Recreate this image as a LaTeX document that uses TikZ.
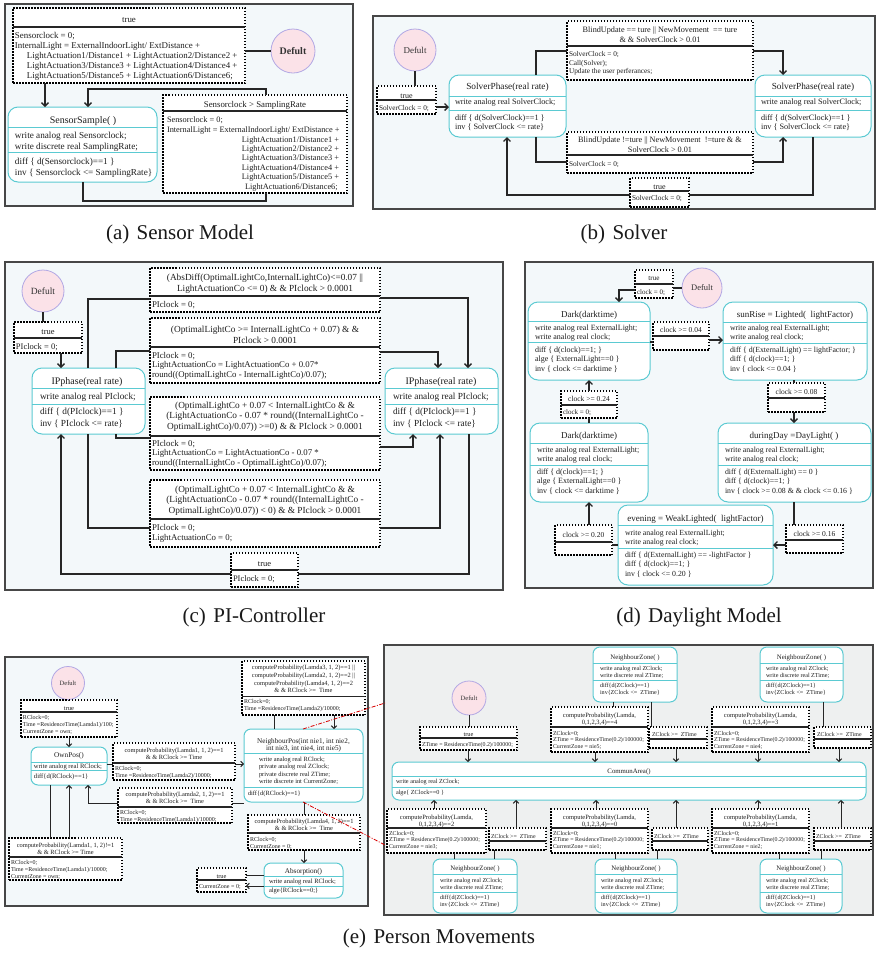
\documentclass[tikz,border=0pt]{standalone}
\usepackage{fontspec}
\setmainfont{Liberation Serif}
\usetikzlibrary{arrows.meta}
\definecolor{pbg}{HTML}{F3F8FA}
\definecolor{gbg}{HTML}{EEF0F0}
\definecolor{stc}{HTML}{5BCAD2}
\definecolor{circf}{HTML}{FBE2E8}
\definecolor{circd}{HTML}{B2A8E4}
\definecolor{txtc}{HTML}{1E1E1E}
\newcount\lblcnt
\newcommand\TL[3][]{\global\advance\lblcnt by 1\relax\node[tx,#1] (lbl\the\lblcnt) at (#2) {\begin{tabular}[t]{@{}l@{}}#3\end{tabular}};}
\newcommand\TC[3][]{\global\advance\lblcnt by 1\relax\node[tx,tc,#1] (lbl\the\lblcnt) at (#2) {\begin{tabular}[t]{@{}c@{}}#3\end{tabular}};}
\newcommand\TR[3][]{\global\advance\lblcnt by 1\relax\node[tx,tr,#1] (lbl\the\lblcnt) at (#2) {\begin{tabular}[t]{@{}r@{}}#3\end{tabular}};}
\newcommand\BX[6]{\node[#1, minimum width={#5-#3}, minimum height={#6-#4}] (#2) at ({(#3+#5)/2},{(#4+#6)/2}) {};}
\newcommand\HS[4][tsep]{\draw[#1] (#2,#4) -- (#3,#4);}
\tikzset{
 fsz/.style 2 args={font=\fontsize{#1}{#2}\selectfont},
 tx/.style={inner sep=0pt, outer sep=0pt, anchor=base west, text=txtc},
 tc/.style={anchor=base},
 tr/.style={anchor=base east},
 panel/.style={draw=black!72, line width=1.2pt, fill=pbg},
 panelg/.style={draw=black!72, line width=1.2pt, fill=gbg},
 stbox/.style={rectangle, draw=stc, line width=1pt, fill=white, rounded corners=10pt, inner sep=0pt, outer sep=0pt},
 stboxs/.style={stbox, rounded corners=7pt},
 trbox/.style={rectangle, draw=black, line width=1.1pt, dash pattern=on 1.5pt off 1.5pt, fill=white, inner sep=0pt, outer sep=0pt},
 tsep/.style={draw=black!85, line width=1.2pt},
 ssep/.style={draw=stc, line width=0.9pt},
 defult/.style={circle, draw=circd, fill=circf, line width=0.8pt, inner sep=0pt, text=black!80},
 conn/.style={draw=black!85, line width=1.3pt},
 arr/.style={conn, -{Straight Barb[length=3.5pt,width=7pt]}},
 conn2/.style={draw=black!85, line width=1pt},
 arr2/.style={conn2, -{Straight Barb[length=2.6pt,width=5.5pt]}},
 redl/.style={draw=red!85!black, line width=0.8pt, dash pattern=on 4pt off 1.5pt on 1pt off 1.5pt},
 captxt/.style={inner sep=0pt, anchor=base, font=\fontsize{21}{24}\selectfont, text=black!90}
}
\begin{document}
\begin{tikzpicture}[x=1pt,y=-1pt]
\useasboundingbox (0,0) rectangle (876,954);
\fill[white] (0,0) rectangle (876,954);

% ================= (a) =================
\draw[panel] (5,4) rectangle (353,206);
\BX{trbox}{truea}{13}{8}{245}{83}
\TC[fsz={8.9}{10}]{129,22}{true}
\HS{13}{245}{27}
\TL[fsz={8.9}{10}]{15,38}{Sensorclock = 0;\\InternalLight = ExternalIndoorLight/ ExtDistance +\\\hspace*{12pt}LightActuation1/Distance1 + LightActuation2/Distance2 +\\\hspace*{12pt}LightActuation3/Distance3 + LightActuation4/Distance4 +\\\hspace*{12pt}LightActuation5/Distance5 + LightActuation6/Distance6;}
\node[defult, minimum size=44pt, font=\fontsize{10}{12}\selectfont\bfseries] (dfa) at (293,51) {Defult};
\BX{stbox}{ss}{8}{107}{157}{182}
\TC[fsz={10}{12}]{83,123.5}{SensorSample( )}
\HS[ssep]{8}{157}{127}
\TL[fsz={9.2}{11}]{15,138}{write analog real Sensorclock;\\write discrete real SamplingRate;}
\HS[ssep]{8}{157}{152}
\TL[fsz={9.2}{11.5}]{15,164}{diff \{ d(Sensorclock)==1 \}\\inv \{ Sensorclock <= SamplingRate\}}
\BX{trbox}{sra}{163}{95}{347}{193}
\TC[fsz={8.8}{10}]{255,107}{Sensorclock > SamplingRate}
\HS{163}{347}{111}
\TL[fsz={8.3}{10}]{167,122}{Sensorclock = 0;\\InternalLight = ExternalIndoorLight/ ExtDistance +}
\TR[fsz={8.3}{9.2}]{339,142.5}{LightActuation1/Distance1 +\\LightActuation2/Distance2 +\\LightActuation3/Distance3 +\\LightActuation4/Distance4 +\\LightActuation5/Distance5 +}
\TL[fsz={8.3}{10}]{245,189.3}{LightActuation6/Distance6;}
\node[captxt] (capa) at (180,239) {(a)\hspace{0.35em}Sensor Model};

% ================= (b) =================
\draw[panel] (373,16) rectangle (875,209);
\node[defult, minimum size=42pt, font=\fontsize{9}{11}\selectfont] (dfb) at (415,50) {Defult};
\BX{trbox}{trueb}{377}{86}{436}{114}
\TC[fsz={8}{10}]{406.5,98}{true}
\HS{377}{436}{100}
\TL[fsz={7.3}{8.5}]{379,110.5}{SolverClock = 0;}
\BX{stbox}{sp1}{449}{75}{566}{137}
\TC[fsz={9.3}{11}]{507.5,89}{SolverPhase(real rate)}
\HS[ssep]{449}{566}{96}
\TL[fsz={8.2}{9}]{455,104}{write analog real SolverClock;}
\HS[ssep]{449}{566}{110}
\TL[fsz={8.2}{9}]{455,120}{diff \{ d(SolverClock)==1 \}\\inv \{ SolverClock <= rate\}}
\BX{stbox}{sp2}{755}{75}{871}{137}
\TC[fsz={9.3}{11}]{813,89}{SolverPhase(real rate)}
\HS[ssep]{755}{871}{96}
\TL[fsz={8.2}{9}]{761,104}{write analog real SolverClock;}
\HS[ssep]{755}{871}{110}
\TL[fsz={8.2}{9}]{761,120}{diff \{ d(SolverClock)==1 \}\\inv \{ SolverClock <= rate\}}
\BX{trbox}{tb1}{567}{21}{753}{80}
\TC[fsz={8.2}{10}]{660,32}{BlindUpdate == ture || NewMovement\ \ == ture\\\& \& SolverClock > 0.01}
\HS{567}{753}{46}
\TL[fsz={7.3}{8.5}]{569,56.5}{SolverClock = 0;\\Call(Solver);\\Update the user perferances;}
\BX{trbox}{tb2}{567}{132}{753}{173}
\TC[fsz={8.2}{10}]{660,142}{BlindUpdate !=ture || NewMovement\ \ !=ture \& \&\\SolverClock > 0.01}
\HS{567}{753}{155}
\TL[fsz={7.3}{8.5}]{569,166.5}{SolverClock = 0;}
\BX{trbox}{trueb2}{630}{178}{689}{207}
\TC[fsz={8}{10}]{659.5,189}{true}
\HS{630}{689}{191}
\TL[fsz={7.3}{8.5}]{632,200.5}{SolverClock = 0;}
\node[captxt] (capb) at (624,239) {(b)\hspace{0.35em}Solver};

% ================= (c) =================
\draw[panel] (5,262) rectangle (503,590);
\node[defult, minimum size=42pt, font=\fontsize{9.5}{11}\selectfont] (dfc) at (43,291) {Defult};
\BX{trbox}{truec}{14}{322}{82}{353}
\TC[fsz={8.5}{10}]{48,334.5}{true}
\HS{14}{82}{338}
\TL[fsz={8.5}{10}]{16,349}{PIclock = 0;}
\BX{stbox}{ip1}{32}{368}{145}{434}
\TC[fsz={10}{12}]{87,384}{IPphase(real rate)}
\HS[ssep]{32}{145}{388}
\TL[fsz={9.3}{12.5}]{40,399}{write analog real PIclock;}
\HS[ssep]{32}{145}{404}
\TL[fsz={9.3}{12.5}]{40,414}{diff \{ d(PIclock)==1 \}\\inv \{ PIclock <= rate\}}
\BX{stbox}{ip2}{385}{368}{498}{434}
\TC[fsz={10}{12}]{441,384}{IPphase(real rate)}
\HS[ssep]{385}{498}{388}
\TL[fsz={9.3}{12.5}]{393,399}{write analog real PIclock;}
\HS[ssep]{385}{498}{404}
\TL[fsz={9.3}{12.5}]{393,414}{diff \{ d(PIclock)==1 \}\\inv \{ PIclock <= rate\}}
\BX{trbox}{c1}{150}{268}{380}{312}
\TC[fsz={9.3}{11.5}]{265,280}{(AbsDiff(OptimalLightCo,InternalLightCo)<=0.07 ||\\LightActuationCo <= 0) \& \& PIclock > 0.0001}
\HS{150}{380}{296}
\TL[fsz={8.8}{9.7}]{152,307}{PIclock = 0;}
\BX{trbox}{c2}{150}{318}{380}{383}
\TC[fsz={9.3}{11}]{265,332}{(OptimalLightCo >= InternalLightCo + 0.07) \& \&\\PIclock > 0.0001}
\HS{150}{380}{347}
\TL[fsz={8.8}{9.7}]{152,358}{PIclock = 0;\\LightActuationCo = LightActuationCo + 0.07*\\round((OptimalLightCo - InternalLightCo)/0.07);}
\BX{trbox}{c3}{150}{397}{380}{470}
\TC[fsz={9.3}{10.7}]{265,408}{(OptimalLightCo + 0.07 < InternalLightCo \& \&\\(LightActuationCo - 0.07 * round((InternalLightCo -\\OptimalLightCo)/0.07)) >=0) \& \& PIclock > 0.0001}
\HS{150}{380}{436}
\TL[fsz={8.8}{9.7}]{152,446}{PIclock = 0;\\LightActuationCo = LightActuationCo - 0.07 *\\round((InternalLightCo - OptimalLightCo)/0.07);}
\BX{trbox}{c4}{150}{480}{380}{547}
\TC[fsz={9.3}{10.7}]{265,492}{(OptimalLightCo + 0.07 < InternalLightCo \& \&\\(LightActuationCo - 0.07 * round((InternalLightCo -\\OptimalLightCo)/0.07)) < 0) \& \& PIclock > 0.0001}
\HS{150}{380}{519}
\TL[fsz={8.8}{10}]{152,530}{PIclock = 0;\\LightActuationCo = 0;}
\BX{trbox}{truec2}{231}{553}{298}{587}
\TC[fsz={8.5}{10}]{264.5,566}{true}
\HS{231}{298}{570}
\TL[fsz={8.5}{10}]{233,581}{PIclock = 0;}
\node[captxt] (capc) at (254,622) {(c)\hspace{0.35em}PI-Controller};

% ================= (d) =================
\draw[panel] (525,262) rectangle (873,588);
\BX{trbox}{trued}{635}{270}{673}{298}
\TC[fsz={7.2}{9}]{654,280.5}{true}
\HS{635}{673}{284}
\TL[fsz={7}{9}]{637,294.5}{clock = 0;}
\node[defult, minimum size=40pt, font=\fontsize{8.5}{10}\selectfont] (dfd) at (702,288) {Defult};
\BX{stbox}{dk1}{528}{302}{650}{380}
\TC[fsz={9}{11}]{589,317}{Dark(darktime)}
\HS[ssep]{528}{650}{321}
\TL[fsz={8}{9}]{535,330}{write analog real ExternalLight;\\write analog real clock;}
\HS[ssep]{528}{650}{342}
\TL[fsz={8}{9.5}]{535,352}{diff \{ d(clock)==1; \}\\alge \{ ExternalLight==0 \}\\inv \{ clock <= darktime \}}
\BX{trbox}{cb04}{653}{322}{709}{350}
\TC[fsz={7.5}{9}]{681,332.5}{clock >= 0.04}
\HS{653}{709}{336}
\BX{stbox}{sun}{723}{302}{867}{380}
\TC[fsz={9}{11}]{795,317}{sunRise = Lighted(\ \ lightFactor)}
\HS[ssep]{723}{867}{322}
\TL[fsz={7.8}{9}]{730,330}{write analog real ExternalLight;\\write analog real clock;}
\HS[ssep]{723}{867}{343}
\TL[fsz={7.8}{9.5}]{730,352}{diff \{ d(ExternalLight) == lightFactor; \}\\diff \{ d(clock)==1; \}\\inv \{ clock <= 0.04 \}}
\BX{trbox}{cb08}{768}{383}{825}{412}
\TC[fsz={7.5}{9}]{796.5,394.5}{clock >= 0.08}
\HS{768}{825}{398}
\BX{stbox}{dd}{718}{423}{871}{502}
\TC[fsz={9}{11}]{794,438}{duringDay =DayLight( )}
\HS[ssep]{718}{871}{443}
\TL[fsz={7.8}{9}]{725,452}{write analog real ExternalLight;\\write analog real clock;}
\HS[ssep]{718}{871}{465}
\TL[fsz={7.8}{9.5}]{725,474}{diff \{ d(ExternalLight) == 0 \}\\diff \{ d(clock)==1; \}\\inv \{ clock >= 0.08 \& \& clock <= 0.16 \}}
\BX{trbox}{cb16}{786}{525}{843}{553}
\TC[fsz={7.5}{9}]{814.5,536.5}{clock >= 0.16}
\HS{786}{843}{540}
\BX{stbox}{ev}{618}{505}{773}{585}
\TC[fsz={9}{11}]{695.5,521.5}{evening = WeakLighted(\ \ lightFactor)}
\HS[ssep]{618}{773}{525}
\TL[fsz={7.8}{8.5}]{625,535.5}{write analog real ExternalLight;\\write analog real clock;}
\HS[ssep]{618}{773}{548}
\TL[fsz={7.8}{9.3}]{625,557.5}{diff \{ d(ExternalLight) == -lightFactor \}\\diff \{ d(clock)==1; \}\\inv \{ clock <= 0.20 \}}
\BX{trbox}{cb20}{555}{525}{612}{555}
\TC[fsz={7.5}{9}]{583.5,537.5}{clock >= 0.20}
\HS{555}{612}{542}
\BX{stbox}{dk2}{530}{423}{648}{502}
\TC[fsz={9}{11}]{589,438}{Dark(darktime)}
\HS[ssep]{530}{648}{443}
\TL[fsz={8}{9}]{537,452.5}{write analog real ExternalLight;\\write analog real clock;}
\HS[ssep]{530}{648}{465}
\TL[fsz={8}{9.5}]{537,474}{diff \{ d(clock)==1; \}\\alge \{ ExternalLight==0 \}\\inv \{ clock <= darktime \}}
\BX{trbox}{cb24}{561}{391}{617}{418}
\TC[fsz={7.5}{9}]{589,401.5}{clock >= 0.24}
\HS{561}{617}{405}
\TL[fsz={7}{9}]{563,414.5}{clock = 0;}
\node[captxt] (capd) at (699,622) {(d)\hspace{0.35em}Daylight Model};

% ================= (e) left =================
\draw[panel] (5,657) rectangle (368,906);
\node[defult, minimum size=33pt, font=\fontsize{6.5}{8}\selectfont] (dfe1) at (68,683) {Defult};
\BX{trbox}{truee}{21}{700}{117}{737}
\TC[fsz={6.5}{8}]{69,710}{true}
\HS{21}{117}{712}
\TL[fsz={6}{7}]{23,719}{RClock=0;\\Time =ResidenceTime(Lamda1)/100;\\CurrentZone = own;}
\BX{stboxs}{op}{31}{747}{107}{785}
\TC[fsz={7.3}{8}]{69,757.5}{OwnPos()}
\HS[ssep]{31}{107}{762}
\TL[fsz={6.6}{8}]{34,768.5}{write analog real RClock;}
\HS[ssep]{31}{107}{770}
\TL[fsz={6.6}{8}]{34,778.5}{diff\{d(RClock)==1\}}
\BX{trbox}{tax}{113}{743}{235}{780}
\TC[fsz={6.4}{7.5}]{174,752}{computeProbability(Lamda1, 1, 2)==1\\\& \& RClock >= Time}
\HS{113}{235}{763}
\TL[fsz={6}{7}]{115,770}{RClock=0;\\Time =ResidenceTime(Lamda2)/10000;}
\BX{trbox}{tbx}{118}{788}{232}{823}
\TC[fsz={6.4}{7.5}]{175,796}{computeProbability(Lamda2, 1, 2)==1\\\& \& RClock >=\ \ Time}
\HS{118}{232}{807}
\TL[fsz={6}{7}]{120,814}{RClock=0;\\Time =ResidenceTime(Lamda1)/10000;}
\BX{trbox}{tcx}{9}{838}{122}{880}
\TC[fsz={6.4}{7.5}]{65.5,847}{computeProbability(Lamda1, 1, 2)!=1\\\& \& RClock >= Time}
\HS{9}{122}{857}
\TL[fsz={6}{7}]{11,864}{RClock=0;\\Time =ResidenceTime(Lamda1)/10000;\\CurrentZone = own;}
\BX{trbox}{tdx}{242}{661}{365}{715}
\TC[fsz={6.4}{7.8}]{303.5,669.5}{computeProbability(Lamda3, 1, 2)==1 ||\\computeProbability(Lamda2, 1, 2)==2 ||\\computeProbability(Lamda4, 1, 2)==2\\\& \& RClock >=\ \ Time}
\HS{242}{365}{696.5}
\TL[fsz={6}{7}]{244,703}{RClock=0;\\Time =ResidenceTime(Lamda2)/10000;}
\BX{stboxs}{np}{244}{729}{363}{802}
\TC[fsz={7.2}{7.2}]{303.5,743}{NeighbourPos(int nie1, int nie2,\\int nie3, int nie4, int nie5)}
\HS[ssep]{244}{363}{753}
\TL[fsz={6.4}{7.3}]{259,761.5}{write analog real RClock;\\private analog real ZClock;\\private discrete real ZTime;\\write discrete int CurrentZone;}
\HS[ssep]{244}{363}{787}
\TL[fsz={6.4}{7.3}]{248,795.5}{diff\{d(RClock)==1\}}
\BX{trbox}{tex}{248}{815}{360}{850}
\TC[fsz={6.4}{7.5}]{304,823}{computeProbability(Lamda4, 1, 2)==1\\\& \& RClock >=\ \ Time}
\HS{248}{360}{833}
\TL[fsz={6}{7}]{250,841}{RClock=0;\\CurrentZone = 0;}
\BX{stboxs}{ab}{264}{863}{343}{898}
\TC[fsz={7.2}{8}]{303.5,873.5}{Absorption()}
\HS[ssep]{264}{343}{876}
\TL[fsz={6.5}{8}]{269,883.5}{write analog real RClock;}
\HS[ssep]{264}{343}{886}
\TL[fsz={6.5}{8}]{269,892.5}{alge\{RClock==0;\}}
\BX{trbox}{tfx}{197}{868}{246}{892}
\TC[fsz={6.4}{8}]{221.5,878}{true}
\HS{197}{246}{880}
\TL[fsz={6}{7}]{199,888}{CurrentZone = 0;}

% ================= (e) right =================
\draw[panelg] (384,645) rectangle (873,915);
\node[defult, minimum size=34pt, font=\fontsize{6.5}{8}\selectfont] (dfe2) at (469,698) {Defult};
\BX{trbox}{truee2}{420}{727}{517}{750}
\TC[fsz={6.4}{8}]{468.5,736}{true}
\HS{420}{517}{738}
\TL[fsz={5.9}{7}]{422,746}{ZTime = ResidenceTime(0.2)/100000;}
\BX{stboxs}{ca}{392}{762}{866}{800}
\TC[fsz={6.8}{8}]{629,773}{CommunArea()}
\HS[ssep]{392}{866}{776}
\TL[fsz={6.2}{7}]{396,783}{write analog real ZClock;}
\HS[ssep]{392}{866}{787}
\TL[fsz={6.2}{7}]{396,794}{alge\{ ZClock==0 \}}
\BX{stboxs}{nzt1}{593}{647}{677}{702}
\TC[fsz={6.8}{8}]{635,659}{NeighbourZone( )}
\HS[ssep]{593}{677}{663}
\TL[fsz={6.1}{7}]{600,670}{write analog real ZClock;\\write discrete real ZTime;}
\HS[ssep]{593}{677}{680}
\TL[fsz={6.1}{7}]{600,687}{diff\{d(ZClock)==1\}\\inv\{ZClock <=\ \ ZTime\}}
\BX{stboxs}{nzt2}{760}{647}{843}{702}
\TC[fsz={6.8}{8}]{801.5,659}{NeighbourZone( )}
\HS[ssep]{760}{843}{663}
\TL[fsz={6.1}{7}]{766,670}{write analog real ZClock;\\write discrete real ZTime;}
\HS[ssep]{760}{843}{680}
\TL[fsz={6.1}{7}]{766,687}{diff\{d(ZClock)==1\}\\inv\{ZClock <=\ \ ZTime\}}
\BX{trbox}{tt1}{551}{707}{648}{752}
\TC[fsz={6.5}{7.5}]{599.5,717}{computeProbability(Lamda,\\0,1,2,3,4)==4}
\HS{551}{648}{727}
\TL[fsz={5.9}{6.6}]{553,735}{ZClock=0;\\ZTime = ResidenceTime(0.2)/100000;\\CurrentZone = nie5;}
\BX{trbox}{zt1}{649}{727}{707}{748}
\TL[fsz={5.9}{7}]{652,736}{ZClock >=\ \ ZTime}
\HS{649}{707}{739}
\BX{trbox}{tt2}{712}{707}{809}{752}
\TC[fsz={6.5}{7.5}]{760.5,717}{computeProbability(Lamda,\\0,1,2,3,4)==3}
\HS{712}{809}{727}
\TL[fsz={5.9}{6.6}]{714,735}{ZClock=0;\\ZTime = ResidenceTime(0.2)/100000;\\CurrentZone = nie4;}
\BX{trbox}{zt2}{814}{727}{871}{748}
\TL[fsz={5.9}{7}]{817,736}{ZClock >=\ \ ZTime}
\HS{814}{871}{739}
\BX{trbox}{bb1}{387}{809}{486}{853}
\TC[fsz={6.5}{7.5}]{436.5,819}{computeProbability(Lamda,\\0,1,2,3,4)==2}
\HS{387}{486}{828}
\TL[fsz={5.9}{6.8}]{389,835}{ZClock=0;\\ZTime = ResidenceTime(0.2)/100000;\\CurrentZone = nie3;}
\BX{trbox}{zb1}{489}{828}{546}{850}
\TL[fsz={5.9}{7}]{491,838}{ZClock >=\ \ ZTime}
\HS{489}{546}{841}
\BX{trbox}{bb2}{551}{809}{648}{853}
\TC[fsz={6.5}{7.5}]{599.5,819}{computeProbability(Lamda,\\0,1,2,3,4)==0}
\HS{551}{648}{828}
\TL[fsz={5.9}{6.8}]{553,835}{ZClock=0;\\ZTime = ResidenceTime(0.2)/100000;\\CurrentZone = nie1;}
\BX{trbox}{zb2}{652}{828}{708}{850}
\TL[fsz={5.9}{7}]{654,838}{ZClock >=\ \ ZTime}
\HS{652}{708}{841}
\BX{trbox}{bb3}{712}{809}{809}{853}
\TC[fsz={6.5}{7.5}]{760.5,819}{computeProbability(Lamda,\\0,1,2,3,4)==1}
\HS{712}{809}{828}
\TL[fsz={5.9}{6.8}]{714,835}{ZClock=0;\\ZTime = ResidenceTime(0.2)/100000;\\CurrentZone = nie2;}
\BX{trbox}{zb3}{814}{828}{871}{850}
\TL[fsz={5.9}{7}]{816,838}{ZClock >=\ \ ZTime}
\HS{814}{871}{841}
\BX{stboxs}{nb1}{433}{859}{517}{913}
\TC[fsz={6.8}{8}]{475,870}{NeighbourZone( )}
\HS[ssep]{433}{517}{874}
\TL[fsz={6.1}{7}]{440,882}{write analog real ZClock;\\write discrete real ZTime;}
\HS[ssep]{433}{517}{892}
\TL[fsz={6.1}{7}]{440,899}{diff\{d(ZClock)==1\}\\inv\{ZClock <=\ \ ZTime\}}
\BX{stboxs}{nb2}{595}{859}{677}{913}
\TC[fsz={6.8}{8}]{636,870}{NeighbourZone( )}
\HS[ssep]{595}{677}{874}
\TL[fsz={6.1}{7}]{601,882}{write analog real ZClock;\\write discrete real ZTime;}
\HS[ssep]{595}{677}{892}
\TL[fsz={6.1}{7}]{601,899}{diff\{d(ZClock)==1\}\\inv\{ZClock <=\ \ ZTime\}}
\BX{stboxs}{nb3}{760}{859}{842}{913}
\TC[fsz={6.8}{8}]{801,870}{NeighbourZone( )}
\HS[ssep]{760}{842}{874}
\TL[fsz={6.1}{7}]{766,882}{write analog real ZClock;\\write discrete real ZTime;}
\HS[ssep]{760}{842}{892}
\TL[fsz={6.1}{7}]{766,899}{diff\{d(ZClock)==1\}\\inv\{ZClock <=\ \ ZTime\}}
\node[captxt] (cape) at (439,943) {(e)\hspace{0.35em}Person Movements};

% ================= connectors =================
% (a)
\draw[conn] (dfa.west) -- (truea.east |- dfa.west);
\draw[arr] (truea.south -| 45,0) -- (ss.north -| 45,0);
\draw[conn] (ss.south -| 83,0) -- (83,201) -- (266,201) -- (sra.south -| 266,0);
\draw[arr] (sra.north -| 266,0) -- (266,89) -- (88,89) -- (ss.north -| 88,0);
% (b)
\draw[conn] (dfb.south) -- (trueb.north -| dfb.south);
\draw[arr] (trueb.east |- 0,107) -- (sp1.west |- 0,107);
\draw[conn] (sp1.north -| 536,0) -- (536,51) -- (tb1.west |- 0,51);
\draw[arr] (tb1.east |- 0,51) -- (783,51) -- (sp2.north -| 783,0);
\draw[conn] (sp1.south -| 536,0) -- (536,162) -- (tb2.west |- 0,162);
\draw[arr] (tb2.east |- 0,162) -- (783,162) -- (sp2.south -| 783,0);
\draw[conn] (sp2.south -| 813,0) -- (813,195) -- (trueb2.east |- 0,195);
\draw[arr] (trueb2.west |- 0,195) -- (507,195) -- (sp1.south -| 507,0);
% (c)
\draw[conn] (dfc.south) -- (truec.north -| dfc.south);
\draw[arr] (truec.south -| 61,0) -- (ip1.north -| 61,0);
\draw[conn] (ip1.north -| 88,0) -- (88,299) -- (c1.west |- 0,299);
\draw[arr] (c1.east |- 0,298) -- (468,298) -- (ip2.north -| 468,0);
\draw[conn] (ip1.north -| 116,0) -- (116,351) -- (c2.west |- 0,351);
\draw[arr] (c2.east |- 0,352) -- (438,352) -- (ip2.north -| 438,0);
\draw[conn] (ip1.south -| 116,0) -- (116,438) -- (c3.west |- 0,438);
\draw[arr] (c3.east |- 0,447) -- (413,447) -- (ip2.south -| 413,0);
\draw[conn] (ip1.south -| 88,0) -- (88,528) -- (c4.west |- 0,528);
\draw[arr] (c4.east |- 0,528) -- (440,528) -- (ip2.south -| 440,0);
\draw[conn] (ip2.south -| 469,0) -- (469,574) -- (truec2.east |- 0,574);
\draw[arr] (truec2.west |- 0,574) -- (61,574) -- (ip1.south -| 61,0);
% (d)
\draw[conn] (dfd.west) -- (trued.east |- dfd.west);
\draw[arr] (trued.west |- 0,290) -- (619,290) -- (dk1.north -| 619,0);
\draw[conn] (dk1.east |- 0,342) -- (cb04.west |- 0,342);
\draw[arr] (cb04.east |- 0,340) -- (sun.west |- 0,340);
\draw[conn] (sun.south -| 794,0) -- (cb08.north -| 794,0);
\draw[arr] (cb08.south -| 794,0) -- (dd.north -| 794,0);
\draw[conn] (dd.south -| 794,0) -- (cb16.north -| 794,0);
\draw[arr] (cb16.west |- 0,545) -- (ev.east |- 0,545);
\draw[conn] (ev.west |- 0,545) -- (cb20.east |- 0,545);
\draw[arr] (cb20.north -| 589,0) -- (dk2.south -| 589,0);
\draw[conn] (dk2.north -| 589,0) -- (cb24.south -| 589,0);
\draw[arr] (cb24.north -| 589,0) -- (dk1.south -| 589,0);
% (e) left
\draw[conn2] (dfe1.south) -- (truee.north -| dfe1.south);
\draw[arr2] (truee.south -| 69,0) -- (op.north -| 69,0);
\draw[conn2] (op.east |- 0,764) -- (tax.west |- 0,764);
\draw[arr2] (tax.east |- 0,764) -- (np.west |- 0,764);
\draw[conn2] (np.west |- 0,803) -- (tbx.east |- 0,803);
\draw[arr2] (tbx.west |- 0,803) -- (88,803) -- (op.south -| 88,0);
\draw[conn2] (op.south -| 50,0) -- (tcx.north -| 50,0);
\draw[arr2] (tcx.north -| 69,0) -- (op.south -| 69,0);
\draw[conn2] (np.north -| 274,0) -- (tdx.south -| 274,0);
\draw[arr2] (tdx.south -| 334,0) -- (np.north -| 334,0);
\draw[conn2] (np.south -| 304,0) -- (tex.north -| 304,0);
\draw[arr2] (tex.south -| 304,0) -- (ab.north -| 304,0);
\draw[conn2] (ab.west |- 0,875) -- (tfx.east |- 0,875);
\draw[arr2] (ab.west |- 0,886) -- (tfx.east |- 0,886);
% (e) right
\draw[conn2] (dfe2.south) -- (truee2.north -| dfe2.south);
\draw[arr2] (truee2.south -| 468,0) -- (ca.north -| 468,0);
\draw[conn2] (nzt1.south -| 613,0) -- (tt1.north -| 613,0);
\draw[conn2] (nzt1.south -| 651,0) -- (zt1.north -| 651,0);
\draw[arr2] (tt1.south -| 595,0) -- (ca.north -| 595,0);
\draw[arr2] (zt1.south -| 676,0) -- (ca.north -| 676,0);
\draw[conn2] (nzt2.south -| 823,0) -- (zt2.north -| 823,0);
\draw[arr2] (tt2.south -| 758,0) -- (ca.north -| 758,0);
\draw[arr2] (zt2.south -| 839,0) -- (ca.north -| 839,0);
\draw[arr2] (bb1.north -| 434,0) -- (ca.south -| 434,0);
\draw[conn2] (nb1.north -| 454,0) -- (bb1.south -| 454,0);
\draw[arr2] (zb1.north -| 516,0) -- (ca.south -| 516,0);
\draw[conn2] (nb1.north -| 494,0) -- (zb1.south -| 494,0);
\draw[arr2] (bb2.north -| 596,0) -- (ca.south -| 596,0);
\draw[conn2] (nb2.north -| 615,0) -- (bb2.south -| 615,0);
\draw[arr2] (zb2.north -| 676,0) -- (ca.south -| 676,0);
\draw[conn2] (nb2.north -| 657,0) -- (zb2.south -| 657,0);
\draw[arr2] (bb3.north -| 758,0) -- (ca.south -| 758,0);
\draw[conn2] (nb3.north -| 779,0) -- (bb3.south -| 779,0);
\draw[arr2] (zb3.north -| 841,0) -- (ca.south -| 841,0);
\draw[conn2] (nb3.north -| 821,0) -- (zb3.south -| 821,0);
% red zoom lines
\coordinate (rA) at (385,703);
\coordinate (rB) at (385,845);
\draw[redl] (np.north -| 303,0) -- (rA);
\draw[redl] (np.south -| 303,0) -- (rB);
\end{tikzpicture}
\end{document}
